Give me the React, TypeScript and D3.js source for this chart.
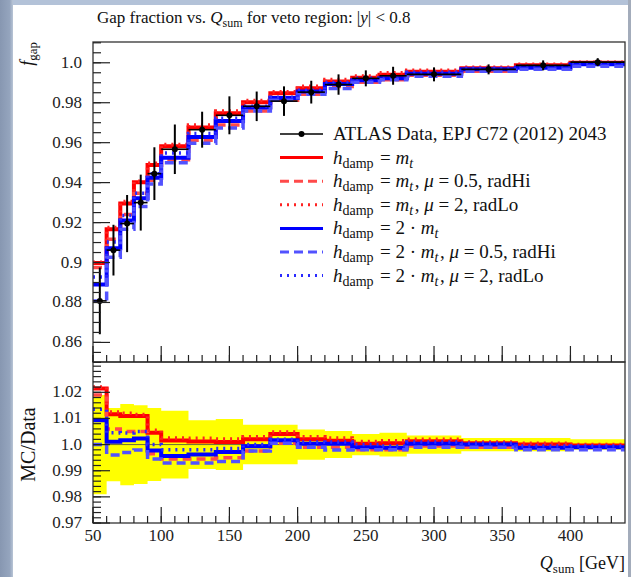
import React from "react";
import * as d3 from "d3";

// Q_sum bin edges [GeV]
const binEdges = [50, 60, 70, 80, 90, 100, 120, 140, 160, 180, 200, 220, 240, 260, 280, 320, 360, 400, 440];

// ATLAS gap fraction and its uncertainty
const dataValues = [0.8808, 0.9062, 0.9195, 0.93, 0.9445, 0.9567, 0.9665, 0.9737, 0.9782, 0.9808, 0.9853, 0.9891, 0.9922, 0.9935, 0.9942, 0.9967, 0.9987, 1.0003];
const dataErrors = [0.0167, 0.0127, 0.0143, 0.014, 0.0132, 0.0124, 0.009, 0.0095, 0.0074, 0.0074, 0.0057, 0.0051, 0.004, 0.0045, 0.0035, 0.0025, 0.0025, 0.002];

// Predictions
const hdampMt = [0.8997, 0.9167, 0.9296, 0.9402, 0.9488, 0.9582, 0.9676, 0.9747, 0.9802, 0.9848, 0.9873, 0.9906, 0.9925, 0.994, 0.9955, 0.9972, 0.9987, 1.0];
const hdampMtRadHi = [0.8975, 0.9116, 0.9241, 0.9347, 0.9412, 0.9514, 0.9612, 0.9688, 0.9758, 0.9813, 0.9843, 0.9881, 0.9902, 0.9915, 0.9937, 0.9957, 0.9977, 0.9993];
const hdampMtRadLo = [0.9002, 0.9175, 0.9305, 0.9407, 0.9497, 0.9591, 0.9688, 0.9758, 0.9811, 0.9855, 0.9883, 0.9916, 0.9934, 0.995, 0.9962, 0.9977, 0.9992, 1.0003];
const hdamp2Mt = [0.889, 0.9072, 0.921, 0.9322, 0.9424, 0.9525, 0.9628, 0.9709, 0.9776, 0.9824, 0.9856, 0.9894, 0.9912, 0.9923, 0.9945, 0.9967, 0.9975, 0.9993];
const hdamp2MtRadHi = [0.8808, 0.9026, 0.9167, 0.9281, 0.9393, 0.95, 0.9597, 0.9674, 0.9758, 0.9813, 0.9843, 0.9871, 0.9902, 0.9915, 0.9932, 0.9957, 0.9967, 0.9983];
const hdamp2MtRadLo = [0.8927, 0.9103, 0.9236, 0.9347, 0.9445, 0.9548, 0.9646, 0.9722, 0.9782, 0.9828, 0.9863, 0.9901, 0.9922, 0.993, 0.9952, 0.9972, 0.9982, 0.9998];

// Axis tick labels
const mainTickValues = [0.86, 0.88, 0.9, 0.92, 0.94, 0.96, 0.98, 1.0];
const mainTickLabels = ["0.86", "0.88", "0.9", "0.92", "0.94", "0.96", "0.98", "1.0"];
const ratioTickValues = [0.97, 0.98, 0.99, 1.0, 1.01, 1.02];
const ratioTickLabels = ["0.97", "0.98", "0.99", "1.0", "1.01", "1.02"];
const xTickValues = [50, 100, 150, 200, 250, 300, 350, 400];

type Series = { values: number[]; color: string; dash: string; width: number; label: "mt" | "mtHi" | "mtLo" | "2mt" | "2mtHi" | "2mtLo" };

const series: Series[] = [
  { values: hdampMt, color: "#ff0000", dash: "none", width: 4, label: "mt" },
  { values: hdampMtRadHi, color: "#ff4a4a", dash: "9 5", width: 3.5, label: "mtHi" },
  { values: hdampMtRadLo, color: "#ff2222", dash: "2 5", width: 3.5, label: "mtLo" },
  { values: hdamp2Mt, color: "#0000ff", dash: "none", width: 4, label: "2mt" },
  { values: hdamp2MtRadHi, color: "#5252ff", dash: "9 5", width: 3.5, label: "2mtHi" },
  { values: hdamp2MtRadLo, color: "#2a2aff", dash: "2 5", width: 3.5, label: "2mtLo" },
];

const W = 631;
const H = 577;
const L = 93;
const R = 625;
const T1 = 42;
const B1 = 362;
const B2 = 523;
const SERIF = "'Liberation Serif', 'DejaVu Serif', serif";

const x = d3.scaleLinear().domain([50, 440]).range([L, R]);
const yMain = d3.scaleLinear().domain([0.8502, 1.0104]).range([B1, T1]);
const yRatio = d3.scaleLinear().domain([0.97, 1.0316]).range([B2, B1]);

function stepPath(vals: number[], y: d3.ScaleLinear<number, number>) {
  const pts: [number, number][] = binEdges.map((e, i) => [x(e), y(vals[Math.min(i, vals.length - 1)])]);
  return d3.line().curve(d3.curveStepAfter)(pts) || "";
}

function LegendLabel({ kind }: { kind: Series["label"] }) {
  const sub = (t: string, italic = false) => (
    <>
      <tspan dy={4} fontSize={14} fontStyle={italic ? "italic" : "normal"}>{t}</tspan>
      <tspan dy={-4}>{"\u200a"}</tspan>
    </>
  );
  const h = (
    <>
      <tspan fontStyle="italic">h</tspan>
      {sub("damp")}
      <tspan> = </tspan>
    </>
  );
  const two = kind.startsWith("2") ? <tspan>2 · </tspan> : null;
  const mt = (
    <>
      <tspan fontStyle="italic">m</tspan>
      {sub("t", true)}
    </>
  );
  let tail: React.ReactNode = null;
  if (kind.endsWith("Hi")) tail = (<><tspan>, </tspan><tspan fontStyle="italic">μ</tspan><tspan> = 0.5, radHi</tspan></>);
  if (kind.endsWith("Lo")) tail = (<><tspan>, </tspan><tspan fontStyle="italic">μ</tspan><tspan> = 2, radLo</tspan></>);
  return (
    <>
      {h}
      {two}
      {mt}
      {tail}
    </>
  );
}

export default function App() {
  const mainMinor: number[] = d3.range(170, 203).map((k) => k * 0.005);
  const ratioMinor: number[] = d3.range(485, 516).map((k) => k * 0.002);
  const xMinor: number[] = d3.range(5, 44).map((k) => k * 10);

  const bandArea =
    d3
      .area<number>()
      .curve(d3.curveStepAfter)
      .x((_, i) => x(binEdges[i]))
      .y0((_, i) => {
        const j = Math.min(i, dataValues.length - 1);
        return yRatio(1 - dataErrors[j] / dataValues[j]);
      })
      .y1((_, i) => {
        const j = Math.min(i, dataValues.length - 1);
        return yRatio(1 + dataErrors[j] / dataValues[j]);
      })(binEdges) || "";

  const legendRows = [134, 157.6, 181.2, 204.8, 228.4, 252, 275.6];
  const lx0 = 280;
  const lx1 = 323;
  const ltx = 333;

  return (
    <svg
      width={W}
      height={H}
      viewBox={`0 0 ${W} ${H}`}
      style={{ position: "fixed", left: 0, top: 0, background: "#ffffff" }}
      fontFamily={SERIF}
    >
      <defs>
        <linearGradient id="sideStrip" x1="0" x2="1" y1="0" y2="0">
          <stop offset="0" stopColor="#8797b1" />
          <stop offset="0.75" stopColor="#95a5be" />
          <stop offset="1" stopColor="#b9c5d6" />
        </linearGradient>
        <clipPath id="clipMain">
          <rect x={L} y={T1} width={R - L} height={B1 - T1} />
        </clipPath>
        <clipPath id="clipRatio">
          <rect x={L} y={B1} width={R - L} height={B2 - B1} />
        </clipPath>
      </defs>

      {/* page edges */}
      <rect x={0} y={0} width={W} height={5} fill="#b3c2d8" />
      <rect x={0} y={0} width={13} height={H} fill="url(#sideStrip)" />
      <rect x={628} y={0} width={3} height={H} fill="#a3acbb" />

      {/* title */}
      <text x={97} y={23} fontSize={17} fill="#111">
        <tspan>Gap fraction vs. </tspan>
        <tspan fontStyle="italic">Q</tspan>
        <tspan dy={4} fontSize={12}>sum</tspan>
        <tspan dy={-4}> for veto region: |</tspan>
        <tspan fontStyle="italic">y</tspan>
        <tspan>| &lt; 0.8</tspan>
      </text>

      {/* main panel: predictions */}
      <g clipPath="url(#clipMain)">
        {series.map((s, i) => (
          <path
            key={i}
            d={stepPath(s.values, yMain)}
            fill="none"
            stroke={s.color}
            strokeWidth={s.width}
            strokeDasharray={s.dash}
          />
        ))}
        {/* data */}
        {dataValues.map((v, i) => {
          const cx = x((binEdges[i] + binEdges[i + 1]) / 2);
          const cy = yMain(v);
          return (
            <g key={i}>
              <line x1={x(binEdges[i])} x2={x(binEdges[i + 1])} y1={cy} y2={cy} stroke="#000" strokeWidth={1.6} />
              <line x1={cx} x2={cx} y1={yMain(v - dataErrors[i])} y2={yMain(v + dataErrors[i])} stroke="#000" strokeWidth={2} />
              <circle cx={cx} cy={cy} r={3} fill="#000" />
            </g>
          );
        })}
      </g>

      {/* ratio panel */}
      <g clipPath="url(#clipRatio)">
        <path d={bandArea} fill="#ffff00" stroke="none" />
        <line x1={L} x2={R} y1={yRatio(1)} y2={yRatio(1)} stroke="#6b6b3a" strokeWidth={1} />
        {series.map((s, i) => (
          <path
            key={i}
            d={stepPath(
              s.values.map((v, j) => v / dataValues[j]),
              yRatio
            )}
            fill="none"
            stroke={s.color}
            strokeWidth={s.width}
            strokeDasharray={s.dash}
          />
        ))}
      </g>

      {/* frames */}
      <rect x={L} y={T1} width={R - L} height={B1 - T1} fill="none" stroke="#333" strokeWidth={1.3} />
      <rect x={L} y={B1} width={R - L} height={B2 - B1} fill="none" stroke="#333" strokeWidth={1.3} />

      {/* main y ticks */}
      {mainMinor.map((v, i) => (
        <line key={"mm" + i} x1={L} x2={L + 8} y1={yMain(v)} y2={yMain(v)} stroke="#222" strokeWidth={1.2} />
      ))}
      {mainTickValues.map((v, i) => (
        <g key={"mM" + i}>
          <line x1={L} x2={L + 17} y1={yMain(v)} y2={yMain(v)} stroke="#222" strokeWidth={1.2} />
          <text x={L - 11} y={yMain(v) + 5} textAnchor="end" fontSize={17} fill="#222">
            {mainTickLabels[i]}
          </text>
        </g>
      ))}

      {/* ratio y ticks */}
      {ratioMinor.map((v, i) => (
        <line key={"rm" + i} x1={L} x2={L + 8} y1={yRatio(v)} y2={yRatio(v)} stroke="#222" strokeWidth={1.2} />
      ))}
      {ratioTickValues.map((v, i) => (
        <g key={"rM" + i}>
          <line x1={L} x2={L + 17} y1={yRatio(v)} y2={yRatio(v)} stroke="#222" strokeWidth={1.2} />
          <text x={L - 11} y={yRatio(v) + 5} textAnchor="end" fontSize={17} fill="#222">
            {ratioTickLabels[i]}
          </text>
        </g>
      ))}

      {/* x ticks on both panels */}
      {[B1, B2].map((base, k) => (
        <g key={"xt" + k}>
          {xMinor.map((v, i) => (
            <line key={i} x1={x(v)} x2={x(v)} y1={base} y2={base - 7} stroke="#222" strokeWidth={1.2} />
          ))}
          {xTickValues.map((v, i) => (
            <line key={"M" + i} x1={x(v)} x2={x(v)} y1={base} y2={base - 16} stroke="#222" strokeWidth={1.2} />
          ))}
        </g>
      ))}
      {xTickValues.map((v, i) => (
        <text key={"xl" + i} x={x(v)} y={541} textAnchor="middle" fontSize={17} fill="#222">
          {v}
        </text>
      ))}

      {/* axis titles */}
      <text x={R} y={569} textAnchor="end" fontSize={18} fill="#111">
        <tspan fontStyle="italic">Q</tspan>
        <tspan dy={4} fontSize={13}>sum</tspan>
        <tspan dy={-4}> [GeV]</tspan>
      </text>
      <text transform={`translate(33, ${T1}) rotate(-90)`} textAnchor="end" fontSize={18} fill="#111">
        <tspan fontStyle="italic">f</tspan>
        <tspan dy={4} fontSize={13}>gap</tspan>
      </text>
      <text transform={`translate(35, ${(B1 + B2) / 2 + 2}) rotate(-90)`} textAnchor="middle" fontSize={20} fill="#111">
        MC/Data
      </text>

      {/* legend */}
      <g>
        <line x1={lx0} x2={lx1} y1={legendRows[0]} y2={legendRows[0]} stroke="#000" strokeWidth={1.6} />
        <circle cx={(lx0 + lx1) / 2} cy={legendRows[0]} r={3} fill="#000" />
        <text x={ltx} y={legendRows[0] + 6} fontSize={19} fill="#111">
          ATLAS Data, EPJ C72 (2012) 2043
        </text>
        {series.map((s, i) => (
          <g key={"lg" + i}>
            <line
              x1={lx0}
              x2={lx1}
              y1={legendRows[i + 1]}
              y2={legendRows[i + 1]}
              stroke={s.color}
              strokeWidth={3}
              strokeDasharray={s.dash}
            />
            <text x={ltx} y={legendRows[i + 1] + 6} fontSize={19} fill="#111">
              <LegendLabel kind={s.label} />
            </text>
          </g>
        ))}
      </g>
    </svg>
  );
}
